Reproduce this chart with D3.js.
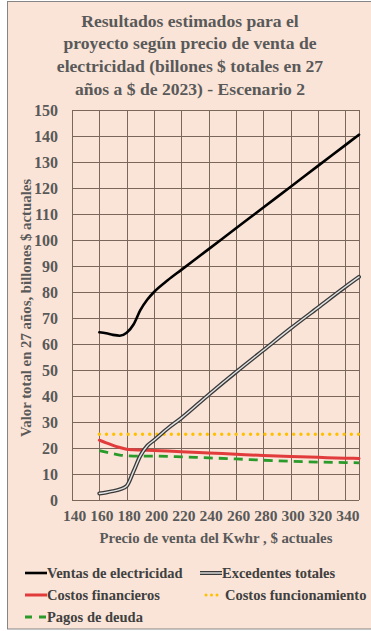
<!DOCTYPE html>
<html>
<head>
<meta charset="utf-8">
<script src="https://cdn.jsdelivr.net/npm/d3@7"></script>
<style>
  html, body { margin: 0; padding: 0; background: #ffffff; }
  svg { display: block; }
  text { font-family: "Liberation Serif", "Times New Roman", serif; font-weight: bold; }
</style>
</head>
<body>
<svg id="chart" width="371" height="631"></svg>
<script>
// Precio de venta (x) and the five result series, billones $
const prices = [160, 165, 170, 175, 180, 185, 190, 195, 200, 210, 220, 240, 260, 280, 300, 320, 340, 350];
const ventas = [64.5, 64.1, 63.5, 63.2, 64.3, 67.5, 73, 77, 80, 84.5, 88.5, 96.5, 104.5, 112.5, 120.5, 128.5, 136.5, 140.5];
const excedentes = [2.5, 2.9, 3.4, 4.1, 5.4, 11, 17, 20.8, 23, 27.5, 31.5, 40.5, 49.2, 57.6, 66, 74, 82, 85.8];
const financieros = [23, 22, 21, 20.2, 19.5, 19.3, 19.2, 19.1, 19, 18.8, 18.6, 18.1, 17.6, 17.1, 16.7, 16.4, 16.1, 16];
const funcionamiento = [25.3, 25.3, 25.3, 25.3, 25.3, 25.3, 25.3, 25.3, 25.3, 25.3, 25.3, 25.3, 25.3, 25.3, 25.3, 25.3, 25.3, 25.3];
const deuda = [19, 18.4, 17.8, 17.3, 17, 16.9, 16.9, 16.9, 16.9, 16.8, 16.6, 16.2, 15.8, 15.3, 14.9, 14.6, 14.4, 14.3];

const xTicks = [140, 160, 180, 200, 220, 240, 260, 280, 300, 320, 340];
const yTicks = [0, 10, 20, 30, 40, 50, 60, 70, 80, 90, 100, 110, 120, 130, 140, 150];

const titleLines = [
  "Resultados estimados para el",
  "proyecto según precio de venta de",
  "electricidad (billones $ totales en 27",
  "años a $ de 2023) - Escenario 2"
];
const yTitle = "Valor total en 27 años, billones $ actuales";
const xTitle = "Precio de venta del Kwhr , $ actuales";

const svg = d3.select("#chart");

// Chart background and frame
svg.append("rect")
  .attr("x", 7.5).attr("y", 1.5).attr("width", 370).attr("height", 627.5)
  .attr("fill", "#f9e4d7").attr("stroke", "#858585").attr("stroke-width", 1);

const x = d3.scaleLinear().domain([140, 350]).range([72, 359]);
const y = d3.scaleLinear().domain([0, 150]).range([500, 110]);

// Title
svg.append("g").selectAll("text").data(titleLines).join("text")
  .attr("x", 190).attr("y", (d, i) => 26.5 + i * 22.7)
  .attr("text-anchor", "middle")
  .attr("font-size", 17.6).attr("fill", "#595959")
  .text(d => d);

// Gridlines
const grid = svg.append("g");
grid.selectAll("line.v").data(xTicks.concat([350])).join("line")
  .attr("class", "v")
  .attr("x1", d => Math.round(x(d)) + 0.5).attr("x2", d => Math.round(x(d)) + 0.5)
  .attr("y1", y(150)).attr("y2", y(0))
  .attr("stroke", "#7a665b").attr("stroke-width", 1);
grid.selectAll("line.h").data(yTicks).join("line")
  .attr("class", "h")
  .attr("y1", d => Math.round(y(d)) + 0.5).attr("y2", d => Math.round(y(d)) + 0.5)
  .attr("x1", x(140)).attr("x2", x(350))
  .attr("stroke", "#7a665b").attr("stroke-width", 1);

// Axes (labels only, no domain lines)
const yAxis = svg.append("g")
  .attr("transform", `translate(${x(140)},0)`)
  .call(d3.axisLeft(y).tickValues(yTicks).tickSize(0).tickPadding(14));
yAxis.select(".domain").remove();
yAxis.selectAll("text")
  .attr("font-family", "Liberation Serif").attr("font-weight", "bold")
  .attr("font-size", 16).attr("fill", "#595959");

const xAxis = svg.append("g")
  .attr("transform", `translate(0,${y(0)})`)
  .call(d3.axisBottom(x).tickValues(xTicks).tickSize(0).tickPadding(10));
xAxis.select(".domain").remove();
xAxis.selectAll("text")
  .attr("dx", 2)
  .attr("font-family", "Liberation Serif").attr("font-weight", "bold")
  .attr("font-size", 15.5).attr("fill", "#595959");

// Axis titles
svg.append("text")
  .attr("transform", "translate(31,308) rotate(-90)")
  .attr("text-anchor", "middle").attr("font-size", 14.8).attr("fill", "#595959")
  .text(yTitle);
svg.append("text")
  .attr("x", 216).attr("y", 543)
  .attr("text-anchor", "middle").attr("font-size", 14.8).attr("fill", "#595959")
  .text(xTitle);

// Series
const line = vals => d3.line()
  .x((d, i) => x(prices[i]))
  .y(d => y(d))
  .curve(d3.curveMonotoneX)(vals);

const plot = svg.append("g").attr("fill", "none").attr("stroke-linecap", "round");

plot.append("path").attr("d", line(funcionamiento))
  .attr("stroke", "#ffc000").attr("stroke-width", 3.4)
  .attr("stroke-dasharray", "0 7.2").attr("stroke-linecap", "round");
plot.append("path").attr("d", line(deuda))
  .attr("stroke", "#2a9a2a").attr("stroke-width", 2.8)
  .attr("stroke-dasharray", "9 6").attr("stroke-linecap", "butt");
plot.append("path").attr("d", line(financieros))
  .attr("stroke", "#e23b3b").attr("stroke-width", 3);
plot.append("path").attr("d", line(ventas))
  .attr("stroke", "#000000").attr("stroke-width", 2.6);
plot.append("path").attr("d", line(excedentes))
  .attr("stroke", "#3a3a3a").attr("stroke-width", 4);
plot.append("path").attr("d", line(excedentes))
  .attr("stroke", "#e4e4e4").attr("stroke-width", 1.4);

// Legend
const legend = svg.append("g");
const legendItems = [
  { name: "Ventas de electricidad", col: 0, row: 0, kind: "black" },
  { name: "Excedentes totales", col: 1, row: 0, kind: "double" },
  { name: "Costos financieros", col: 0, row: 1, kind: "red" },
  { name: "Costos funcionamiento", col: 1, row: 1, kind: "dots" },
  { name: "Pagos de deuda", col: 0, row: 2, kind: "dash" }
];
legendItems.forEach(it => {
  const lx = it.col === 0 ? 25 : 200;
  const ly = 573 + it.row * 22;
  const g = legend.append("g").attr("fill", "none");
  if (it.kind === "black") {
    g.append("line").attr("x1", lx).attr("x2", lx + 22).attr("y1", ly).attr("y2", ly)
      .attr("stroke", "#000").attr("stroke-width", 2.6);
  } else if (it.kind === "double") {
    g.append("line").attr("x1", lx).attr("x2", lx + 22).attr("y1", ly).attr("y2", ly)
      .attr("stroke", "#3a3a3a").attr("stroke-width", 4);
    g.append("line").attr("x1", lx).attr("x2", lx + 22).attr("y1", ly).attr("y2", ly)
      .attr("stroke", "#e4e4e4").attr("stroke-width", 1.4);
  } else if (it.kind === "red") {
    g.append("line").attr("x1", lx).attr("x2", lx + 22).attr("y1", ly).attr("y2", ly)
      .attr("stroke", "#e23b3b").attr("stroke-width", 3);
  } else if (it.kind === "dots") {
    g.append("line").attr("x1", lx + 6).attr("x2", lx + 21).attr("y1", ly).attr("y2", ly)
      .attr("stroke", "#ffc000").attr("stroke-width", 3)
      .attr("stroke-dasharray", "0 5.5").attr("stroke-linecap", "round");
  } else {
    g.append("line").attr("x1", lx).attr("x2", lx + 22).attr("y1", ly).attr("y2", ly)
      .attr("stroke", "#2a9a2a").attr("stroke-width", 2.8)
      .attr("stroke-dasharray", "7 7");
  }
  legend.append("text")
    .attr("x", it.kind === "dots" ? lx + 25 : lx + 22).attr("y", ly + 5)
    .attr("font-size", 14.5).attr("fill", "#404040")
    .text(it.name);
});
</script>
</body>
</html>
